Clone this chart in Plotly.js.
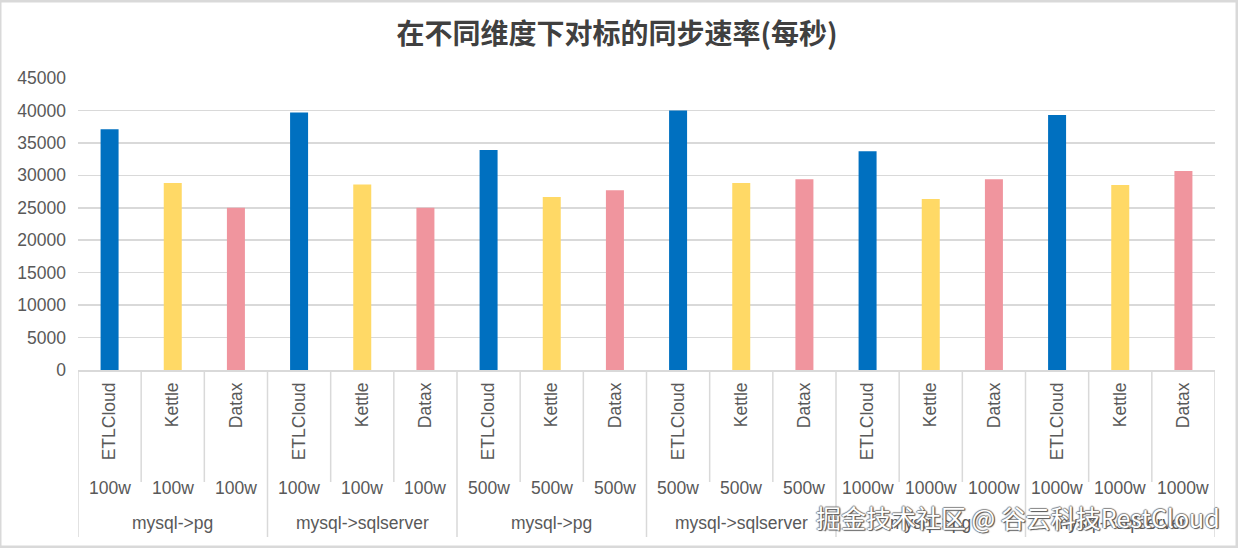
<!DOCTYPE html>
<html>
<head>
<meta charset="utf-8">
<script src="https://cdn.plot.ly/plotly-3.0.1.min.js"></script>
<style>html,body{margin:0;padding:0;background:#fff;}#chart{width:1238px;height:548px;}</style>
</head>
<body>
<div id="chart"></div>
<script>
// ---- data ----
const tools = ['ETLCloud','Kettle','Datax','ETLCloud','Kettle','Datax','ETLCloud','Kettle','Datax',
               'ETLCloud','Kettle','Datax','ETLCloud','Kettle','Datax','ETLCloud','Kettle','Datax'];
const volumes = ['100w','100w','100w','100w','100w','100w','500w','500w','500w',
                 '500w','500w','500w','1000w','1000w','1000w','1000w','1000w','1000w'];
const scenarios = ['mysql->pg','mysql->sqlserver','mysql->pg','mysql->sqlserver','mysql->pg','mysql->sqlserver'];
const values = [37100, 28800, 25000, 39700, 28600, 25000, 33900, 26650, 27700,
                40000, 28800, 29400, 33700, 26350, 29400, 39300, 28500, 30650];
const yTicks = [0,5000,10000,15000,20000,25000,30000,35000,40000,45000];
const toolColors = {ETLCloud:'#0070C0', Kettle:'#FFD966', Datax:'#F0959E'};
const title = '在不同维度下对标的同步速率(每秒)';
const watermark = '掘金技术社区 @ 谷云科技RestCloud';

// ---- geometry ----
const W = 1238, H = 548;
const M = {l:78, r:23, t:78, b:178};
const plotH = H - M.t - M.b;
const px = v => -v / plotH; // pixels below plot bottom -> paper y

const idx = tools.map((_, i) => i);
const labelFont = {family:'Liberation Sans, Arial, sans-serif', size:17.5, color:'#595959'};

const shapes = [];
// divider lines
for (let i = 0; i <= tools.length; i++) {
  const major = (i % 3 === 0);
  shapes.push({type:'line', xref:'x', yref:'paper', x0:i-0.5, x1:i-0.5,
    y0:0, y1:px(major ? 167 : 112), line:{color:'#d9d9d9', width:1.5}});
}
// outer frame
shapes.push({type:'rect', xref:'paper', yref:'paper',
  x0:-M.l/ (W-M.l-M.r), x1:1 + (M.r-1)/(W-M.l-M.r), y0:-(M.b-1)/plotH, y1:1 + (M.t-1)/plotH,
  line:{color:'#d9d9d9', width:3}});

const annotations = [];
volumes.forEach((v, i) => {
  annotations.push({xref:'x', yref:'paper', x:i, y:px(118), text:v, showarrow:false,
    xanchor:'center', yanchor:'middle', font:labelFont});
});
scenarios.forEach((s, g) => {
  annotations.push({xref:'x', yref:'paper', x:g*3+1, y:px(153), text:s, showarrow:false,
    xanchor:'center', yanchor:'middle', font:labelFont});
});
annotations.push({xref:'paper', yref:'paper', x:(1222-M.l)/(W-M.l-M.r), y:px(147), text:watermark,
  showarrow:false, xanchor:'right', yanchor:'middle',
  font:{family:'Noto Sans CJK SC, sans-serif', size:25, color:'#ffffff', shadow:'1px 1px 1px #555, -1px 0px 1px #888, 0px -1px 1px #888, 1px 0 1px #666'}});

const trace = {
  type:'bar', x:idx, y:values,
  marker:{color:tools.map(t => toolColors[t])},
  hoverinfo:'y'
};

const layout = {
  width:W, height:H, margin:M,
  paper_bgcolor:'#ffffff', plot_bgcolor:'#ffffff',
  showlegend:false, bargap:0.715,
  title:{text:title, x:617/W, xref:'container', xanchor:'center', y:1-34/H, yref:'container', yanchor:'middle',
    font:{family:'Noto Sans CJK SC, sans-serif', size:28, color:'#404040', weight:'bold'}},
  xaxis:{range:[-0.5, tools.length-0.5], tickmode:'array', tickvals:idx, ticktext:tools,
    tickangle:-90, tickfont:labelFont, showgrid:false, zeroline:false,
    showline:true, linecolor:'#d9d9d9', linewidth:1.5, ticks:'', ticklabelstandoff:4, fixedrange:true},
  yaxis:{range:[0,45000], tickmode:'array', tickvals:yTicks, ticktext:yTicks.map(String),
    tickfont:labelFont, showgrid:true, gridcolor:'#d9d9d9', gridwidth:1.5, zeroline:false,
    showline:false, ticks:'', ticklabelstandoff:11, fixedrange:true},
  shapes:shapes, annotations:annotations
};

Plotly.newPlot('chart', [trace], layout, {displayModeBar:false, staticPlot:true});
</script>
</body>
</html>
